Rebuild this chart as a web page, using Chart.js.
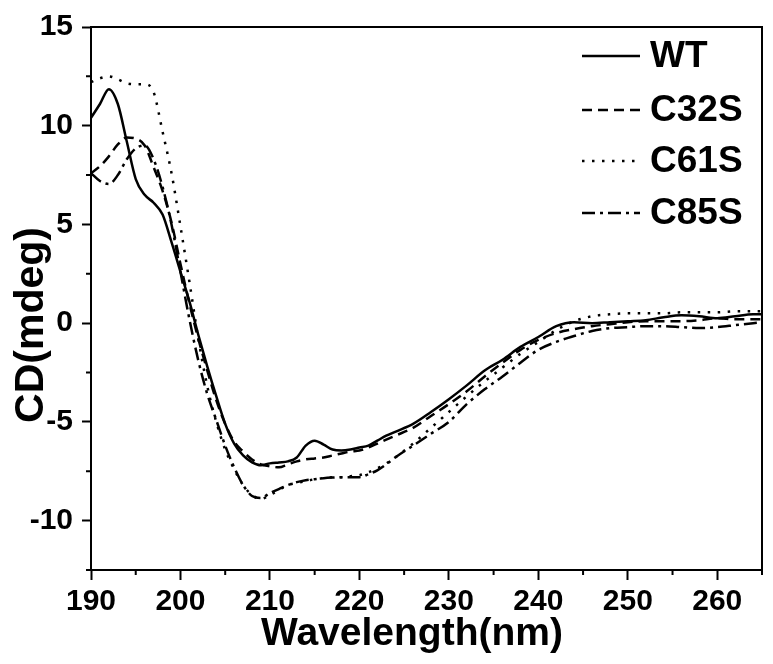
<!DOCTYPE html>
<html>
<head>
<meta charset="utf-8">
<script src="https://cdn.jsdelivr.net/npm/chart.js@4.4.0/dist/chart.umd.min.js"></script>
<style>
  html, body { margin: 0; padding: 0; background: #fff; }
  #wrap { width: 773px; height: 664px; }
</style>
</head>
<body>
<div id="wrap"><canvas id="cd" width="773" height="664"></canvas></div>
<script>
// wavelength (nm) shared by all spectra
const wavelength = [
  190, 191, 192, 193, 194, 195, 196, 197, 198, 199,
  200, 201, 202, 203, 204, 205, 206, 207, 208, 209,
  210, 211, 212, 213, 214, 215, 216, 217, 218, 219,
  220, 221, 222, 223, 224, 226, 228, 230, 232, 234,
  236, 238, 240, 242, 244, 246, 248, 250, 252, 254,
  256, 258, 260, 262, 264, 265
];

// CD (mdeg)
const wt = [
  10.4, 11.1, 11.85, 11.1, 9.2, 7.3, 6.5, 6.1, 5.5, 4.1,
  2.6, 1.1, -0.6, -2.2, -3.7, -5.1, -6.1, -6.7, -7.05, -7.2,
  -7.1, -7.05, -7.0, -6.8, -6.2, -5.95, -6.15, -6.4, -6.45, -6.4,
  -6.3, -6.2, -5.95, -5.7, -5.5, -5.1, -4.5, -3.85, -3.15, -2.4,
  -1.85, -1.2, -0.7, -0.15, 0.05, 0.0, 0.05, 0.1, 0.15, 0.3,
  0.4, 0.35, 0.25, 0.35, 0.45, 0.45
];
const c32s = [
  7.6, 7.95, 8.45, 9.05, 9.4, 9.35, 9.0, 7.9, 6.7, 5.1,
  3.0, 1.0, -0.8, -2.4, -3.9, -5.1, -6.0, -6.5, -6.9, -7.15,
  -7.25, -7.3, -7.15, -7.0, -6.9, -6.85, -6.8, -6.7, -6.6, -6.5,
  -6.45, -6.3, -6.1, -5.9, -5.7, -5.3, -4.7, -4.1, -3.45, -2.7,
  -2.0, -1.35, -0.85, -0.5, -0.3, -0.15, -0.05, 0.05, 0.1, 0.1,
  0.1, 0.15, 0.25, 0.2, 0.2, 0.2
];
const c61s = [
  12.2, 12.4, 12.5, 12.35, 12.15, 12.1, 12.1, 11.7, 9.7, 7.6,
  4.9, 2.1, -0.8, -3.2, -5.0, -6.4, -7.4, -8.2, -8.7, -8.9,
  -8.7, -8.45, -8.2, -8.1, -8.0, -7.9, -7.85, -7.8, -7.8, -7.75,
  -7.7, -7.55, -7.35, -7.1, -6.8, -6.1, -5.3, -4.5, -3.7, -2.95,
  -2.25, -1.55, -0.95, -0.35, 0.1, 0.35, 0.45, 0.5, 0.5, 0.5,
  0.55, 0.55, 0.55, 0.6, 0.6, 0.6
];
const c85s = [
  7.6, 7.2, 7.05, 7.5, 8.3, 8.85, 9.0, 8.3, 6.9, 5.0,
  2.6, 0.2, -1.9, -3.6, -4.9, -6.2, -7.3, -8.2, -8.75, -8.85,
  -8.6, -8.4, -8.2, -8.05, -7.95, -7.9, -7.85, -7.82, -7.8, -7.8,
  -7.8, -7.65, -7.45, -7.15, -6.8, -6.2, -5.6, -5.0, -4.1, -3.35,
  -2.7, -2.0, -1.35, -0.95, -0.65, -0.4, -0.25, -0.2, -0.15, -0.15,
  -0.2, -0.25, -0.2, -0.1, 0.0, 0.05
];

const seriesNames = ['WT', 'C32S', 'C61S', 'C85S'];
const seriesValues = [wt, c32s, c61s, c85s];
const seriesDash = [[], [10, 6], [2.5, 7.5], [13, 5, 3, 5]];

// labelled ticks
const xTicks = [190, 200, 210, 220, 230, 240, 250, 260];
const yTicks = [-10, -5, 0, 5, 10, 15];

const xTitle = 'Wavelength(nm)';
const yTitle = 'CD(mdeg)';

const FONT = "'Liberation Sans', Arial, sans-serif";

function toPoints(vals) {
  return wavelength.map((w, i) => ({ x: w, y: vals[i] }));
}

// frame, minor ticks, axis titles and legend inside the plot
const decorations = {
  id: 'decorations',
  afterDraw(chart) {
    const ctx = chart.ctx;
    const a = chart.chartArea;
    const xs = chart.scales.x, ys = chart.scales.y;
    ctx.save();
    ctx.strokeStyle = '#000';
    ctx.lineWidth = 2;
    ctx.beginPath();
    ctx.moveTo(a.left, a.top);
    ctx.lineTo(a.right, a.top);
    ctx.lineTo(a.right, a.bottom);
    ctx.stroke();

    // minor ticks
    ctx.beginPath();
    for (let v = 195; v <= 265; v += 10) {
      const px = xs.getPixelForValue(v);
      ctx.moveTo(px, a.bottom);
      ctx.lineTo(px, a.bottom + 5);
    }
    for (let v = -12.5; v <= 15; v += 5) {
      const py = ys.getPixelForValue(v);
      ctx.moveTo(a.left, py);
      ctx.lineTo(a.left - 5, py);
    }
    ctx.stroke();

    // axis titles
    ctx.fillStyle = '#000';
    ctx.font = 'bold 39px ' + FONT;
    ctx.textAlign = 'center';
    ctx.textBaseline = 'alphabetic';
    ctx.fillText(xTitle, 412, 645);
    ctx.save();
    ctx.translate(43, 325);
    ctx.rotate(-Math.PI / 2);
    ctx.font = 'bold 41px ' + FONT;
    ctx.fillText(yTitle, 0, 0);
    ctx.restore();

    // legend
    const rows = [56, 110, 161, 213];
    ctx.font = 'bold 37px ' + FONT;
    ctx.textAlign = 'left';
    ctx.textBaseline = 'middle';
    chart.data.datasets.forEach((ds, i) => {
      ctx.lineWidth = ds.borderWidth;
      ctx.setLineDash(ds.borderDash);
      ctx.beginPath();
      ctx.moveTo(582, rows[i]);
      ctx.lineTo(640, rows[i]);
      ctx.stroke();
      ctx.setLineDash([]);
      ctx.fillText(ds.label, 650, rows[i] + 1);
    });
    ctx.restore();
  }
};

new Chart(document.getElementById('cd'), {
  type: 'line',
  data: {
    datasets: seriesNames.map((name, i) => ({
      label: name,
      data: toPoints(seriesValues[i]),
      borderColor: '#000',
      borderWidth: 2.5,
      borderDash: seriesDash[i],
      pointRadius: 0,
      fill: false,
      cubicInterpolationMode: 'monotone'
    }))
  },
  options: {
    responsive: false,
    animation: false,
    layout: { padding: { top: 23, right: 11, left: 0, bottom: 0 } },
    plugins: { legend: { display: false }, tooltip: { enabled: false } },
    scales: {
      x: {
        type: 'linear',
        min: 190,
        max: 265,
        afterBuildTicks: s => { s.ticks = xTicks.map(v => ({ value: v })); },
        afterFit: s => { s.height = 94; },
        ticks: {
          autoSkip: false,
          color: '#000',
          padding: 4,
          maxRotation: 0,
          font: { family: FONT, size: 30, weight: 'bold' }
        },
        grid: { drawOnChartArea: false, tickLength: 10, tickWidth: 2, tickColor: '#000' },
        border: { display: true, color: '#000', width: 2 }
      },
      y: {
        type: 'linear',
        min: -12.5,
        max: 15,
        afterBuildTicks: s => { s.ticks = yTicks.map(v => ({ value: v })); },
        afterFit: s => { s.width = 91; },
        ticks: {
          autoSkip: false,
          color: '#000',
          padding: 9,
          font: { family: FONT, size: 30, weight: 'bold' }
        },
        grid: { drawOnChartArea: false, tickLength: 9, tickWidth: 2, tickColor: '#000' },
        border: { display: true, color: '#000', width: 2 }
      }
    }
  },
  plugins: [decorations]
});
</script>
</body>
</html>
